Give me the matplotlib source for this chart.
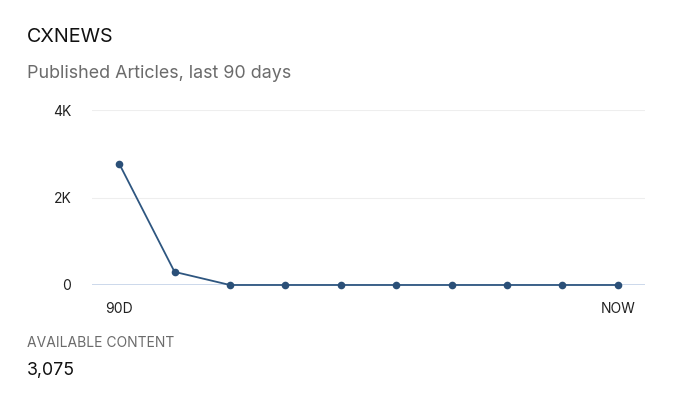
import matplotlib

matplotlib.use("Agg")
import matplotlib.pyplot as plt

days = list(range(10))
articles = [2775, 300, 0, 0, 0, 0, 0, 0, 0, 0]
x_tick_pos = [0, 9]
x_tick_labels = ["90D", "NOW"]
y_ticks = [0, 2000, 4000]
y_tick_labels = ["0", "2K", "4K"]
title = "CXNEWS"
subtitle = "Published Articles, last 90 days"
total_label = "AVAILABLE CONTENT"
total_value = "3,075"

plt.rcParams["font.family"] = ["Inter", "DejaVu Sans"]

fig = plt.figure(figsize=(7, 3.94), dpi=100)
ax = fig.add_axes([92 / 700, 1 - 285 / 394, (645 - 92) / 700, (285 - 110) / 394])

line_color = "#2e5680"
ax.plot(days, articles, color=line_color, linewidth=1.3, marker="o",
        markersize=5.5, markerfacecolor="#2b5078", markeredgewidth=0,
        clip_on=False, zorder=3)

ax.set_xlim(-0.49, 9.49)
ax.set_ylim(0, 4000)
ax.set_yticks(y_ticks)
ax.set_yticklabels(y_tick_labels)
ax.set_xticks(x_tick_pos)
ax.set_xticklabels(x_tick_labels)
ax.tick_params(length=0, labelsize=10, colors="#222222")
ax.tick_params(axis="y", pad=15)
ax.tick_params(axis="x", pad=12)
for lbl in ax.get_xticklabels() + ax.get_yticklabels():
    lbl.set_color("#222222")

for s in ax.spines.values():
    s.set_visible(False)
ax.grid(axis="y", color="#eeeeee", linewidth=0.8)
ax.axhline(0, color="#c4d2e8", linewidth=1.2, zorder=2)

fig.text(27 / 700, 1 - 37 / 394, title, fontsize=14.2, color="#111111", va="center")
fig.text(27 / 700, 1 - 73 / 394, subtitle, fontsize=12.9, color="#6b6b6b", va="center")
fig.text(27 / 700, 1 - 343 / 394, total_label, fontsize=10, color="#6b6b6b",
         va="center")
fig.text(27 / 700, 1 - 370 / 394, total_value, fontsize=12.8, color="#111111",
         va="center")

fig.savefig("out.png", dpi=100, facecolor="white")
